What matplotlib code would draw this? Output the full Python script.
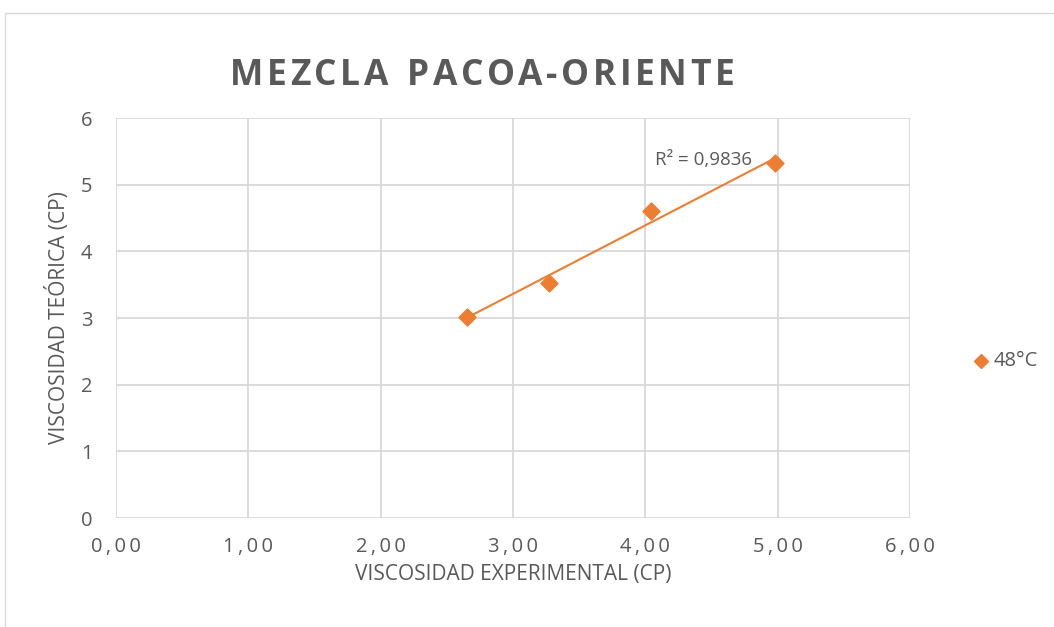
import numpy as np
import matplotlib
matplotlib.use("Agg")
import matplotlib.pyplot as plt
from matplotlib.patches import Rectangle
from matplotlib.lines import Line2D

plt.rcParams['font.family'] = ['Open Sans', 'DejaVu Sans']

# Data
x_exp = [2.65, 3.27, 4.04, 4.98]
y_teo = [3.01, 3.53, 4.61, 5.32]
series_label = "48°C"
title = "MEZCLA PACOA-ORIENTE"
xlabel = "VISCOSIDAD EXPERIMENTAL (CP)"
ylabel = "VISCOSIDAD TEÓRICA (CP)"
r2_text = "R² = 0,9836"
xticks = [0, 1, 2, 3, 4, 5, 6]
xticklabels = ["0,00", "1,00", "2,00", "3,00", "4,00", "5,00", "6,00"]
yticks = [0, 1, 2, 3, 4, 5, 6]

orange = "#ED7D31"
gray = "#595959"
grid = "#D9D9D9"

W, H = 1054, 627
fig = plt.figure(figsize=(W/100, H/100), dpi=100)
ax = fig.add_axes([116/W, 1-518/H, (910-116)/W, (518-118)/H])

# chart border
fig.patches.append(Rectangle((5/W, -0.1), 1.2, (1-13/H)+0.1, transform=fig.transFigure,
                             fill=False, edgecolor="#D9D9D9", linewidth=1.0))

ax.set_xlim(0, 6)
ax.set_ylim(0, 6)
ax.set_xticks(xticks)
ax.set_xticklabels(["\u2009".join(s) for s in xticklabels])
ax.set_yticks(yticks)
ax.grid(True, color=grid, linewidth=1.3)
ax.set_axisbelow(True)
for s in ax.spines.values():
    s.set_visible(False)
ax.tick_params(length=0, labelsize=14.5, labelcolor=gray)
ax.tick_params(axis='y', pad=17)
ax.tick_params(axis='x', pad=14)

ax.scatter(x_exp, y_teo, marker='D', s=75, color=orange, zorder=3)
coef = np.polyfit(x_exp, y_teo, 1)
xs = np.array([min(x_exp), max(x_exp)])
ax.plot(xs, np.polyval(coef, xs), color=orange, linewidth=1.5, zorder=2)
ax.text(655/W, 1-160/H, r2_text, fontsize=13.5, color=gray, ha='left', va='center',
        transform=fig.transFigure)

ax.set_xlabel(xlabel, fontsize=15, color=gray, labelpad=5)
ax.set_ylabel(ylabel, fontsize=15, color=gray, labelpad=8)

# letter-spaced title
fig.canvas.draw()
renderer = fig.canvas.get_renderer()
tsize = 25.5
spacing = 3.6  # px between letters
chars = list(title)
widths = []
for c in chars:
    t = fig.text(0, 0, c if c != " " else "n", fontsize=tsize, fontweight='bold')
    bb = t.get_window_extent(renderer)
    w = bb.width if c != " " else bb.width * 0.5
    widths.append(w)
    t.remove()
total = sum(widths) + spacing * (len(chars) - 1)
x0 = 482 - total / 2
yT = 1 - 76 / H
for c, w in zip(chars, widths):
    if c != " ":
        fig.text(x0 / W, yT, c, fontsize=tsize, fontweight='bold', color=gray,
                 ha='left', va='center')
    x0 += w + spacing

# legend (manual)
fig.add_artist(Line2D([981/W], [1-361/H], marker='D', markersize=7.5, color=orange,
                      linestyle='none', transform=fig.transFigure))
fig.text(994/W, 1-361/H, series_label, fontsize=14.5, color=gray, ha='left', va='center')

fig.savefig("out.png", dpi=100)
